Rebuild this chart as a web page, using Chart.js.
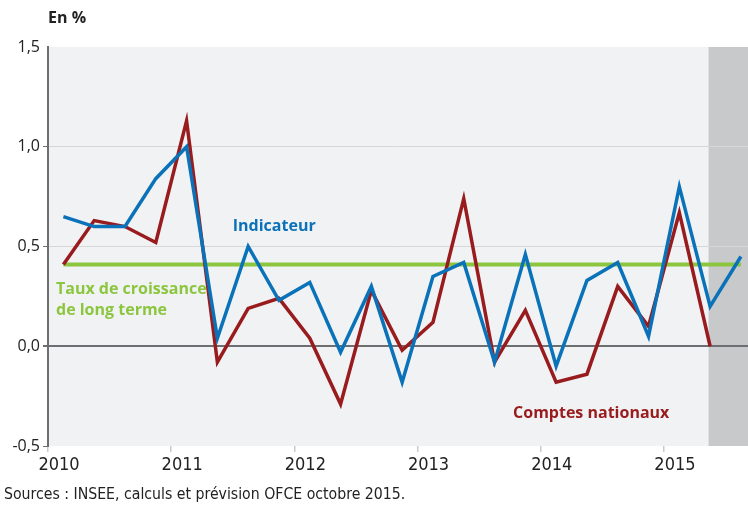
<!DOCTYPE html>
<html>
<head>
<meta charset="utf-8">
<script src="https://cdn.jsdelivr.net/npm/chart.js@4"></script>
<style>
  body { margin: 0; background: #fff; }
  #wrap { width: 748px; height: 505px; position: relative; }
</style>
</head>
<body>
<div id="wrap"><canvas id="myChart"></canvas></div>
<script>
// quarterly growth, 2010T1 .. 2015T3
const quarters = ['2010T1','2010T2','2010T3','2010T4','2011T1','2011T2','2011T3','2011T4',
  '2012T1','2012T2','2012T3','2012T4','2013T1','2013T2','2013T3','2013T4',
  '2014T1','2014T2','2014T3','2014T4','2015T1','2015T2','2015T3'];
const indicateur = [0.65, 0.60, 0.60, 0.84, 1.00, 0.04, 0.50, 0.23,
  0.32, -0.03, 0.30, -0.18, 0.35, 0.42, -0.08, 0.46,
  -0.10, 0.33, 0.42, 0.05, 0.80, 0.20, 0.45];
const comptes = [0.41, 0.63, 0.60, 0.52, 1.13, -0.08, 0.19, 0.24,
  0.04, -0.29, 0.28, -0.02, 0.12, 0.74, -0.08, 0.18,
  -0.18, -0.14, 0.30, 0.10, 0.67, 0.00, null];
const longTermRate = 0.41;
const years = ['2010', '2011', '2012', '2013', '2014', '2015'];
const yTicks = [-0.5, 0, 0.5, 1.0, 1.5];
const forecastStart = 20.95; // shaded forecast zone starts around 2015T2

const BLUE = '#0a72b8';
const RED = '#981b1e';
const GREEN = '#8cc63f';

function toPoints(values) {
    return values.map((v, i) => ({ x: i, y: v }));
}

const textPlugin = {
    id: 'decor',
    beforeDraw(chart) {
        const { ctx, chartArea, scales } = chart;
        ctx.save();
        ctx.fillStyle = '#f1f2f4';
        ctx.fillRect(chartArea.left, chartArea.top, chartArea.right - chartArea.left, chartArea.bottom - chartArea.top);
        const xs = scales.x.getPixelForValue(forecastStart);
        ctx.fillStyle = '#c8c9cb';
        ctx.fillRect(xs, chartArea.top, chartArea.right - xs, chartArea.bottom - chartArea.top);
        ctx.restore();
    },
    afterDraw(chart) {
        const { ctx, chartArea, scales } = chart;
        const x = scales.x, y = scales.y;
        ctx.save();
        ctx.textBaseline = 'middle';
        ctx.textAlign = 'left';
        ctx.font = 'bold 16px "Open Sans", sans-serif';
        ctx.fillStyle = '#222';
        ctx.fillText('En %', chartArea.left, 18);

        ctx.font = 'bold 16px "Open Sans", sans-serif';
        ctx.fillStyle = BLUE;
        ctx.fillText('Indicateur', x.getPixelForValue(5.5), y.getPixelForValue(0.60));
        ctx.fillStyle = GREEN;
        ctx.fillText('Taux de croissance', x.getPixelForValue(-0.24), y.getPixelForValue(0.285));
        ctx.fillText('de long terme', x.getPixelForValue(-0.24), y.getPixelForValue(0.18));
        ctx.fillStyle = RED;
        ctx.fillText('Comptes nationaux', x.getPixelForValue(14.6), y.getPixelForValue(-0.335));

        ctx.font = '15.7px "Liberation Sans Narrow", "DejaVu Sans Condensed", sans-serif';
        ctx.fillStyle = '#222';
        ctx.fillText('Sources : INSEE, calculs et prévision OFCE octobre 2015.', 4, 495);
        ctx.restore();
    }
};

const config = {
    type: 'line',
    data: {
        datasets: [{
            label: 'Indicateur',
            data: toPoints(indicateur),
            borderColor: BLUE,
            borderWidth: 3.5,
            order: 1
        }, {
            label: 'Comptes nationaux',
            data: toPoints(comptes),
            borderColor: RED,
            borderWidth: 3.5,
            order: 2
        }, {
            label: 'Taux de croissance de long terme',
            data: [{ x: 0, y: longTermRate }, { x: quarters.length - 1, y: longTermRate }],
            borderColor: GREEN,
            borderWidth: 4,
            order: 3
        }]
    },
    options: {
        responsive: true,
        maintainAspectRatio: false,
        animation: false,
        layout: { padding: { top: 47, right: 0, left: 0, bottom: 0 } },
        elements: {
            point: { radius: 0 },
            line: { tension: 0, borderJoinStyle: 'miter', borderCapStyle: 'butt' }
        },
        plugins: {
            legend: { display: false },
            tooltip: { enabled: false }
        },
        scales: {
            x: {
                type: 'linear',
                min: -0.5,
                max: 22.23,
                afterBuildTicks: (scale) => {
                    scale.ticks = years.map((yr, i) => ({ value: i * 4 - 0.5 }));
                },
                afterFit: (scale) => { scale.height = 59; },
                grid: {
                    drawOnChartArea: false,
                    tickLength: 6,
                    tickColor: '#c9cacc',
                    lineWidth: 1.5
                },
                border: { display: false },
                ticks: {
                    callback: (val) => years[Math.round((val + 0.5) / 4)],
                    labelOffset: 11,
                    padding: 3,
                    maxRotation: 0,
                    autoSkip: false,
                    color: '#222',
                    font: { family: '"Liberation Sans Narrow", "DejaVu Sans Condensed", sans-serif', size: 18 }
                }
            },
            y: {
                min: -0.5,
                max: 1.5,
                afterBuildTicks: (scale) => {
                    scale.ticks = yTicks.map((v) => ({ value: v }));
                },
                afterFit: (scale) => { scale.width = 48; },
                border: { color: '#6d6e71', width: 2 },
                grid: {
                    color: (c) => c.tick.value === 0 ? '#6d6e71' : (c.tick.value === 1.5 || c.tick.value === -0.5 ? 'rgba(0,0,0,0)' : '#d6d7d9'),
                    lineWidth: (c) => c.tick.value === 0 ? 2 : 1,
                    tickColor: (c) => c.tick.value === 1.5 ? 'rgba(0,0,0,0)' : '#6d6e71',
                    tickLength: 5
                },
                ticks: {
                    callback: (v) => v.toFixed(1).replace('.', ','),
                    padding: 3,
                    color: '#222',
                    font: { family: '"Open Sans", sans-serif', size: 16 }
                }
            }
        }
    },
    plugins: [textPlugin]
};

let chart;
function mainEvent() {
    const chartTarget = document.querySelector('#myChart');
    chart = new Chart(chartTarget, config);
}
document.addEventListener('DOMContentLoaded', mainEvent);
</script>
</body>
</html>
